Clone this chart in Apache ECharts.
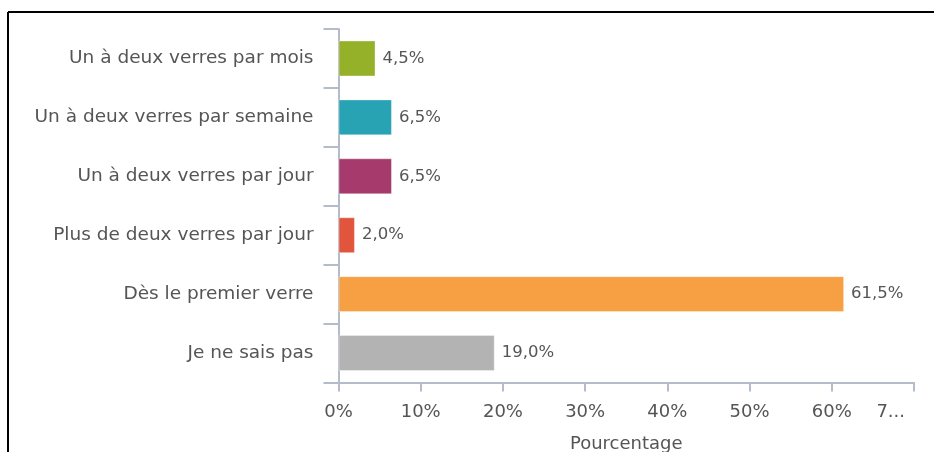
<!DOCTYPE html>
<html>
<head>
<meta charset="utf-8">
<script src="https://cdn.jsdelivr.net/npm/echarts@6/dist/echarts.min.js"></script>
<style>
  html, body { margin: 0; padding: 0; background: #fff; }
  #chart { width: 934px; height: 452px; }
</style>
</head>
<body>
<div id="chart"></div>
<script>
var categories = [
    "Un à deux verres par mois",
    "Un à deux verres par semaine",
    "Un à deux verres par jour",
    "Plus de deux verres par jour",
    "Dès le premier verre",
    "Je ne sais pas"
];
var values = [4.5, 6.5, 6.5, 2.0, 61.5, 19.0];
var barColors = ["#95b12a", "#27a3b4", "#a63a6c", "#e2553d", "#f6a043", "#b3b3b3"];
var xTickLabels = ["0%", "10%", "20%", "30%", "40%", "50%", "60%", "7..."];

var axisGray = "#b4bccb";
var textGray = "#555";
var font = "DejaVu Sans, Verdana, sans-serif";

var chart = echarts.init(document.getElementById("chart"));

var option = {
    backgroundColor: "#fff",
    animation: false,
    grid: { left: 338.5, right: 20, top: 29, bottom: 69.5, outerBoundsMode: "none", containLabel: false },
    xAxis: {
        type: "value",
        min: 0,
        max: 70,
        interval: 10,
        name: "Pourcentage",
        nameLocation: "middle",
        nameGap: 53,
        nameTextStyle: { color: textGray, fontSize: 18, fontFamily: font },
        axisLine: { show: true, lineStyle: { color: axisGray, width: 2 } },
        axisTick: { show: true, length: 9, lineStyle: { color: axisGray, width: 2 } },
        axisLabel: {
            color: textGray, fontSize: 18, fontFamily: font, margin: 21,
            alignMaxLabel: "right",
            formatter: function (v) {
                var i = Math.round(v / 10);
                // last label is cut short in the original
                if (i === xTickLabels.length - 1) return "{last|" + xTickLabels[i] + "}";
                return xTickLabels[i];
            },
            rich: {
                last: { color: textGray, fontSize: 18, fontFamily: font, padding: [0, 9, 0, 0] }
            }
        },
        splitLine: { show: false }
    },
    yAxis: {
        type: "category",
        inverse: true,
        data: categories,
        axisLine: { show: true, lineStyle: { color: axisGray, width: 2 } },
        axisTick: { show: true, length: 15, lineStyle: { color: axisGray, width: 2 } },
        axisLabel: { color: textGray, fontSize: 18.5, fontFamily: font, margin: 25 }
    },
    series: [{
        type: "bar",
        barCategoryGap: "39%",
        data: values.map(function (v, i) {
            return {
                value: v,
                itemStyle: { color: barColors[i], borderColor: "rgba(255,255,255,0.35)", borderWidth: 1 }
            };
        }),
        label: {
            show: true,
            position: "right",
            distance: 7,
            color: textGray,
            fontSize: 16.5,
            fontFamily: font,
            formatter: function (p) { return p.value.toFixed(1).replace(".", ",") + "%"; }
        }
    }],
    graphic: [
        { type: "line", shape: { x1: 8, y1: 12, x2: 934, y2: 12 }, style: { stroke: "#000", lineWidth: 2 } },
        { type: "line", shape: { x1: 8, y1: 12, x2: 8, y2: 452 }, style: { stroke: "#000", lineWidth: 2 } }
    ]
};
chart.setOption(option);
</script>
</body>
</html>
